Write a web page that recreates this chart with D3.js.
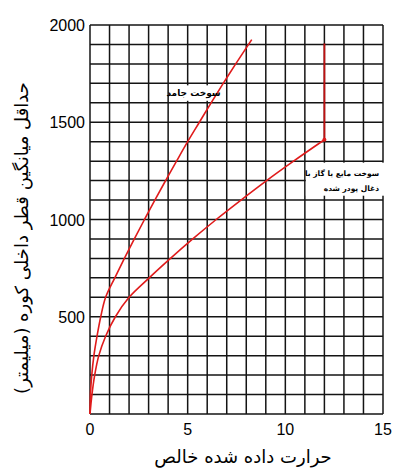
<!DOCTYPE html>
<html>
<head>
<meta charset="utf-8">
<script src="https://cdn.jsdelivr.net/npm/d3@7"></script>
<style>
  body { margin: 0; background: #fff; }
  svg { display: block; }
</style>
</head>
<body>
<svg id="chart" width="397" height="473"></svg>
<script>
// tick labels
const xTicks = [0, 5, 10, 15];
const yTicks = [500, 1000, 1500, 2000];

// curves: [heat, diameter]
const solidFuel = [
    [0, 0], [0.022, 100], [0.09, 200], [0.2, 300], [0.36, 400], [0.55, 500],
    [0.8, 600], [1.27, 700], [1.76, 800], [2.27, 900], [2.79, 1000],
    [3.32, 1100], [3.87, 1200], [4.43, 1300], [5.0, 1400], [5.6, 1500],
    [6.2, 1600], [6.82, 1700], [7.46, 1800], [8.28, 1925]
];
const liquidFuel = [
    [0, 0], [0.1, 100], [0.24, 200], [0.45, 300], [0.8, 400], [1.3, 500],
    [2.0, 600], [3.03, 700], [4.12, 800], [5.26, 900], [6.46, 1000],
    [7.73, 1100], [9.04, 1200], [10.42, 1300], [12, 1410]
];
const liquidCap = [[12, 1410], [12, 1905]];

const solidLabel = 'سوخت جامد';
const liquidLabel = ['سوخت مایع یا گاز با', 'ذغال پودر شده'];
const xTitle = 'حرارت داده شده خالص';
const yTitle = 'حداقل میانگین قطر داخلی کوره (میلیمتر)';

let svg = d3.select('#chart');

let x = d3.scaleLinear().domain([0, 15]).range([90, 383]);
let y = d3.scaleLinear().domain([0, 2000]).range([414, 25]);

// grid, one line per unit and per 100 mm
let grid = svg.append('g').attr('stroke', '#141414').attr('stroke-width', 1.5);
grid.selectAll('line.v')
    .data(d3.range(0, 16))
    .join('line')
        .attr('x1', d => x(d)).attr('x2', d => x(d))
        .attr('y1', y(0)).attr('y2', y(2000));
grid.selectAll('line.h')
    .data(d3.range(0, 2001, 100))
    .join('line')
        .attr('x1', x(0)).attr('x2', x(15))
        .attr('y1', d => y(d)).attr('y2', d => y(d));

// white boxes behind the curve labels
svg.append('rect')
    .attr('x', x(4) + 1).attr('y', y(1700) + 2)
    .attr('width', x(6.75) - x(4)).attr('height', y(1600) - y(1700) - 4)
    .attr('fill', '#fff');
svg.append('rect')
    .attr('x', x(11.05)).attr('y', y(1300) + 1.5)
    .attr('width', x(15) - x(11.05) + 3).attr('height', y(1130) - y(1300))
    .attr('fill', '#fff');

let line = d3.line()
    .x(d => x(d[0]))
    .y(d => y(d[1]))
    .curve(d3.curveCatmullRom.alpha(0.5));

svg.append('path').datum(solidFuel)
    .attr('d', line)
    .attr('fill', 'none').attr('stroke', '#e01b1b').attr('stroke-width', 1.6);
svg.append('path').datum(liquidFuel)
    .attr('d', line)
    .attr('fill', 'none').attr('stroke', '#e01b1b').attr('stroke-width', 1.6);
svg.append('path').datum(liquidCap)
    .attr('d', d3.line().x(d => x(d[0])).y(d => y(d[1])))
    .attr('fill', 'none').attr('stroke', '#c01010').attr('stroke-width', 1.8);
svg.append('circle')
    .attr('cx', x(liquidCap[0][0])).attr('cy', y(liquidCap[0][1]))
    .attr('r', 2).attr('fill', '#e01b1b');

// curve labels
svg.append('text')
    .attr('x', x(5.3)).attr('y', y(1650) + 3)
    .attr('text-anchor', 'middle').attr('direction', 'rtl')
    .style('font', 'bold 9px "DejaVu Sans"')
    .text(solidLabel);
svg.selectAll('text.liq')
    .data(liquidLabel)
    .join('text')
        .attr('x', x(14.8)).attr('y', (d, i) => y(1230) + 1 + i * 15.5)
        .attr('text-anchor', 'start').attr('direction', 'rtl')
        .style('font', 'bold 7.5px "DejaVu Sans"')
        .text(d => d);

// tick labels
svg.selectAll('text.xt')
    .data(xTicks)
    .join('text')
        .attr('x', d => x(d)).attr('y', 435)
        .attr('text-anchor', 'middle')
        .style('font', '16px "Liberation Sans", Arial')
        .text(d => d);
svg.selectAll('text.yt')
    .data(yTicks)
    .join('text')
        .attr('x', 85).attr('y', d => y(d) + 6)
        .attr('text-anchor', 'end')
        .style('font', '16px "Liberation Sans", Arial')
        .text(d => d);

// axis titles
svg.append('text')
    .attr('x', 243).attr('y', 463)
    .attr('text-anchor', 'middle').attr('direction', 'rtl')
    .style('font', '18px "DejaVu Sans"')
    .style('letter-spacing', '0.6px')
    .text(xTitle);
svg.append('text')
    .attr('transform', 'translate(28,238) rotate(-90)')
    .attr('text-anchor', 'middle').attr('direction', 'rtl')
    .style('font', '18px "DejaVu Sans"')
    .text(yTitle);
</script>
</body>
</html>
